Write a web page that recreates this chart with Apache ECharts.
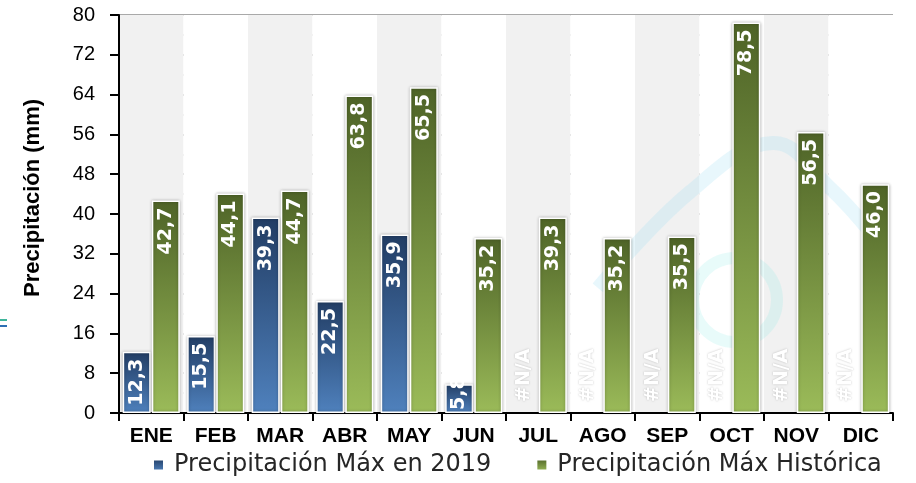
<!DOCTYPE html>
<html>
<head>
<meta charset="utf-8">
<script src="https://cdn.jsdelivr.net/npm/echarts@6/dist/echarts.min.js"></script>
<style>html,body{margin:0;padding:0;background:#fff}#c{width:916px;height:483px}</style>
</head>
<body>
<div id="c"></div>
<script>
const categories = ['ENE','FEB','MAR','ABR','MAY','JUN','JUL','AGO','SEP','OCT','NOV','DIC'];
const max2019 = [12.3, 15.5, 39.3, 22.5, 35.9, 5.8, null, null, null, null, null, null];
const maxHistorica = [42.7, 44.1, 44.7, 63.8, 65.5, 35.2, 39.3, 35.2, 35.5, 78.5, 56.5, 46.0];
const seriesNames = ['Precipitación Máx en 2019', 'Precipitación Máx Histórica'];
const yTitle = 'Precipitación (mm)';

const fmt = v => (v == null ? '#N/A' : v.toFixed(1).replace('.', ','));

const labelTop = {
  show: true, position: 'insideTop', rotate: 90, align: 'right', verticalAlign: 'middle',
  distance: 7, color: '#fff', fontWeight: 'bold', fontSize: 19, fontFamily: 'DejaVu Sans',
  formatter: p => fmt(p.value)
};

const blueData = max2019.map(v => {
  if (v == null) {
    return { value: 0, itemStyle: { borderWidth: 0, shadowBlur: 0 },
      label: { position: 'insideBottom', align: 'left', distance: 11,
      formatter: '#N/A', color: '#ffffff', textShadowColor: 'rgba(0,0,0,0.25)', textShadowBlur: 2 } };
  }
  if (v < 10) {
    return { value: v, label: { position: 'insideBottom', align: 'left', distance: 3 } };
  }
  return v;
});

const blueGrad = new echarts.graphic.LinearGradient(0, 0, 0, 1, [
  { offset: 0, color: '#223d64' }, { offset: 1, color: '#4f81bd' }]);
const greenGrad = new echarts.graphic.LinearGradient(0, 0, 0, 1, [
  { offset: 0, color: '#4e6327' }, { offset: 1, color: '#9bbb59' }]);

const chart = echarts.init(document.getElementById('c'), null, { renderer: 'canvas' });
chart.setOption({
  animation: false,
  backgroundColor: '#ffffff',
  grid: { left: 119, right: 23, top: 15, bottom: 70, containLabel: false },
  legend: {
    left: 147, bottom: 1, itemWidth: 11, itemHeight: 11, itemGap: 44, icon: 'rect',
    textStyle: { fontSize: 24, fontFamily: 'DejaVu Sans', color: '#262626', padding: [0, 0, 0, 5] },
    data: seriesNames
  },
  graphic: [
    { type: 'polyline', z: 1, silent: true,
      shape: { points: [[598, 288], [690, 192], [773, 143], [830, 188], [872, 234]], smooth: 0.4 },
      style: { stroke: 'rgba(165,222,245,0.25)', lineWidth: 14, fill: null } },
    { type: 'circle', z: 1, silent: true, shape: { cx: 735, cy: 300, r: 42 },
      style: { stroke: 'rgba(140,235,230,0.2)', lineWidth: 12, fill: null } },
    { type: 'text', x: 33, y: 198, rotation: Math.PI / 2,
      style: { text: yTitle, font: 'bold 22px "Liberation Sans", Arial, sans-serif', fill: '#000',
        textAlign: 'center', textVerticalAlign: 'middle' } },
    { type: 'line', shape: { x1: 0, y1: 320, x2: 7, y2: 320 }, style: { stroke: '#3fb59b', lineWidth: 2 } },
    { type: 'line', shape: { x1: 0, y1: 326, x2: 7, y2: 326 }, style: { stroke: '#2e6fb3', lineWidth: 2 } }
  ],
  xAxis: {
    type: 'category', data: categories,
    axisLine: { lineStyle: { color: '#000', width: 2 } },
    axisTick: { show: true, length: 8, lineStyle: { color: '#000', width: 2 } },
    axisLabel: { margin: 13, color: '#000', fontWeight: 'bold', fontSize: 21,
      fontFamily: '"Liberation Sans", Arial, sans-serif' },
    splitArea: { show: true, interval: 0, areaStyle: { color: ['#f1f1f1', '#ffffff'] } }
  },
  yAxis: {
    type: 'value', min: 0, max: 80, interval: 8,
    axisLine: { show: true, lineStyle: { color: '#000', width: 2 } },
    axisTick: { show: true, length: 9, lineStyle: { color: '#000', width: 2 } },
    axisLabel: { margin: 24, color: '#000', fontSize: 20, fontFamily: '"Liberation Sans", Arial, sans-serif' },
    splitLine: { show: true, lineStyle: { color: '#a9a9a9', width: 2 } },
    minorTick: { show: false, splitNumber: 2 },
    minorSplitLine: { show: true, lineStyle: { color: '#d9d9d9', width: 2 } }
  },
  series: [
    {
      name: seriesNames[0], type: 'bar', data: blueData, barWidth: 28, barGap: '4%',
      itemStyle: { color: blueGrad, borderColor: '#fff', borderWidth: 1.5,
        shadowColor: 'rgba(0,0,0,0.3)', shadowBlur: 3 },
      label: labelTop
    },
    {
      name: seriesNames[1], type: 'bar', data: maxHistorica, barWidth: 28, barGap: '4%',
      itemStyle: { color: greenGrad, borderColor: '#fff', borderWidth: 1.5,
        shadowColor: 'rgba(0,0,0,0.3)', shadowBlur: 3 },
      label: labelTop
    }
  ]
});
</script>
</body>
</html>
